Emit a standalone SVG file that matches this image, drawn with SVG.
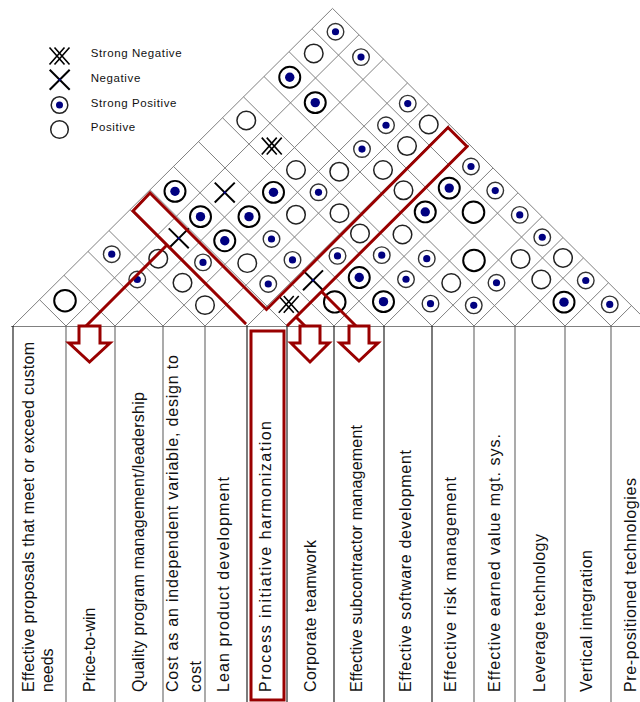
<svg xmlns="http://www.w3.org/2000/svg" xmlns:xlink="http://www.w3.org/1999/xlink" width="640" height="702" viewBox="0 0 640 702">
<style>
.grid{stroke:#808080;stroke-width:1;fill:none}
.col{stroke:#666;stroke-width:1.1}
.colk{stroke:#111;stroke-width:1.1}
.lbl{font-family:"Liberation Sans",Arial,sans-serif;font-size:16px;fill:#111}
.leg{font-family:"Liberation Sans",Arial,sans-serif;font-size:11.5px;letter-spacing:0.6px;fill:#111}
.red{stroke:#990000;stroke-width:3;fill:none;stroke-linejoin:miter}
.arrow{stroke:#990000;stroke-width:3;fill:#fff;stroke-linejoin:miter}
</style>
<defs>
<g id="sps"><circle r="8.3" fill="#fff" stroke="#333" stroke-width="1.4"/><circle r="3.6" fill="#000080"/></g>
<g id="spb"><circle r="10.5" fill="#fff" stroke="#000" stroke-width="2"/><circle r="4.7" fill="#000080"/></g>
<g id="p"><circle r="9.3" fill="#fff" stroke="#222" stroke-width="1.5"/></g>
<g id="pb"><circle r="10.8" fill="#fff" stroke="#000" stroke-width="2"/></g>
<g id="n"><path d="M-10,-10L10,10M10,-10L-10,10" stroke="#000" stroke-width="2"/><circle r="1.3" fill="#000080"/></g>
<g id="sn"><path d="M-10,-8.5L5,8.5M-5,-8.5L10,8.5M5,-8.5L-10,8.5M10,-8.5L-5,8.5" stroke="#000" stroke-width="1.6"/></g>
</defs>
<rect width="640" height="702" fill="#fff"/>
<g id="legend">
<use xlink:href="#sn" x="59.5" y="56"/>
<use xlink:href="#n" x="59.7" y="79.7"/>
<g transform="translate(59.5,105)"><circle r="8.3" fill="#fff" stroke="#222" stroke-width="1.5"/><circle r="3.5" fill="#000080"/></g>
<circle cx="59.5" cy="129.5" r="8.8" fill="#fff" stroke="#222" stroke-width="1.5"/>
<text class="leg" x="90.7" y="56.7">Strong Negative</text>
<text class="leg" x="90.7" y="81.7">Negative</text>
<text class="leg" x="90.7" y="106.7">Strong Positive</text>
<text class="leg" x="90.7" y="130.7">Positive</text>
</g>
<g id="roof" transform="matrix(1 0 0 0.994 0 1.956)">
<path class="grid" d="M13 326L332.5 6.5M66 326L359 33M115 326L383.5 57.5M163 326L407.5 81.5M205 326L428.5 102.5M247 326L449.5 123.5M287 326L469.5 143.5M334 326L493 167M384 326L518 192M432 326L542 216M474 326L563 237M515 326L583.5 257.5M565 326L608.5 282.5M611 326L631.5 305.5"/>
<path class="grid" d="M66 326L39.5 299.5M115 326L64 275M163 326L88 251M205 326L109 230M247 326L130 209M287 326L150 189M334 326L173.5 165.5M384 326L198.5 140.5M432 326L222.5 116.5M474 326L243.5 95.5M515 326L264 75M565 326L289 50M611 326L312 27M652 326L332.5 6.5"/>
<g id="cells">
<use xlink:href="#sps" x="335.5" y="30"/>
<use xlink:href="#sps" x="361" y="55.5"/>
<use xlink:href="#sps" x="407.75" y="102.25"/>
<use xlink:href="#sps" x="386" y="124"/>
<use xlink:href="#sps" x="362" y="148"/>
<use xlink:href="#sps" x="471" y="165.5"/>
<use xlink:href="#sps" x="495.25" y="189.75"/>
<use xlink:href="#sps" x="519.75" y="214.25"/>
<use xlink:href="#sps" x="271.5" y="238.5"/>
<use xlink:href="#sps" x="542.25" y="236.75"/>
<use xlink:href="#sps" x="111.75" y="253.75"/>
<use xlink:href="#sps" x="203" y="262"/>
<use xlink:href="#sps" x="292.5" y="259.5"/>
<use xlink:href="#sps" x="337.5" y="255.5"/>
<use xlink:href="#sps" x="381.75" y="254.75"/>
<use xlink:href="#sps" x="426.75" y="258.25"/>
<use xlink:href="#sps" x="137.25" y="279.25"/>
<use xlink:href="#sps" x="268.25" y="283.75"/>
<use xlink:href="#sps" x="406" y="279"/>
<use xlink:href="#sps" x="496.5" y="282.5"/>
<use xlink:href="#sps" x="585.75" y="280.25"/>
<use xlink:href="#sps" x="430.5" y="303.5"/>
<use xlink:href="#sps" x="473.75" y="305.25"/>
<use xlink:href="#sps" x="609.75" y="304.25"/>
<use xlink:href="#sps" x="318.5" y="191.5"/>
<use xlink:href="#spb" x="289.75" y="75.75"/>
<use xlink:href="#spb" x="315.25" y="101.25"/>
<use xlink:href="#spb" x="175" y="190.5"/>
<use xlink:href="#spb" x="273.5" y="191.5"/>
<use xlink:href="#spb" x="449.25" y="187.25"/>
<use xlink:href="#spb" x="200.5" y="216"/>
<use xlink:href="#spb" x="249" y="216"/>
<use xlink:href="#spb" x="425.25" y="211.25"/>
<use xlink:href="#spb" x="224.75" y="240.25"/>
<use xlink:href="#spb" x="359.25" y="277.25"/>
<use xlink:href="#spb" x="383.5" y="301.5"/>
<use xlink:href="#spb" x="564" y="302"/>
<use xlink:href="#p" x="313.75" y="51.75"/>
<use xlink:href="#p" x="246.25" y="119.25"/>
<use xlink:href="#p" x="428.75" y="123.25"/>
<use xlink:href="#p" x="407" y="145"/>
<use xlink:href="#p" x="296" y="169"/>
<use xlink:href="#p" x="339.25" y="170.75"/>
<use xlink:href="#p" x="383" y="169"/>
<use xlink:href="#p" x="403.5" y="189.5"/>
<use xlink:href="#p" x="296" y="214"/>
<use xlink:href="#p" x="339.5" y="212.5"/>
<use xlink:href="#p" x="360" y="233"/>
<use xlink:href="#p" x="402.5" y="234"/>
<use xlink:href="#p" x="158.25" y="258.25"/>
<use xlink:href="#p" x="247.25" y="262.75"/>
<use xlink:href="#p" x="520.5" y="258.5"/>
<use xlink:href="#p" x="563" y="257.5"/>
<use xlink:href="#p" x="182.5" y="282.5"/>
<use xlink:href="#p" x="451.25" y="282.75"/>
<use xlink:href="#p" x="541.25" y="279.25"/>
<use xlink:href="#p" x="205" y="305"/>
<use xlink:href="#pb" x="473.5" y="211.5"/>
<use xlink:href="#pb" x="474" y="260"/>
<use xlink:href="#pb" x="65" y="300.5"/>
<use xlink:href="#pb" x="334.75" y="301.75"/>
<use xlink:href="#n" x="224.75" y="191.75"/>
<use xlink:href="#n" x="178.75" y="237.75"/>
<use xlink:href="#n" x="313" y="280"/>
<use xlink:href="#sn" x="271.75" y="145"/>
<use xlink:href="#sn" x="288.75" y="304.25"/>
</g>
</g>
<g id="columns">
<path class="grid" d="M11 326.5H640"/>
<path class="colk" d="M13 326V702M247 326V702M287 326V702M334 326V702M384 326V702M432 326V702"/>
<path class="col" d="M66 326V702M115 326V702M163 326V702M205 326V702M474 326V702M515 326V702M565 326V702M611 326V702"/>
</g>
<g id="labels">
<text class="lbl" transform="translate(34,692) rotate(-90)" textLength="350" lengthAdjust="spacing">Effective proposals that meet or exceed custom</text>
<text class="lbl" transform="translate(53,692) rotate(-90)">needs</text>
<text class="lbl" transform="translate(95,692) rotate(-90)">Price-to-win</text>
<text class="lbl" transform="translate(144,692) rotate(-90)" textLength="300" lengthAdjust="spacing">Quality program management/leadership</text>
<text class="lbl" transform="translate(178,692) rotate(-90)" textLength="337" lengthAdjust="spacing">Cost as an independent variable, design to</text>
<text class="lbl" transform="translate(201,692) rotate(-90)" textLength="31" lengthAdjust="spacing">cost</text>
<text class="lbl" transform="translate(229,692) rotate(-90)" textLength="215" lengthAdjust="spacing">Lean product development</text>
<text class="lbl" transform="translate(271,692) rotate(-90)" textLength="271" lengthAdjust="spacing">Process initiative harmonization</text>
<text class="lbl" transform="translate(316,692) rotate(-90)" textLength="152" lengthAdjust="spacing">Corporate teamwork</text>
<text class="lbl" transform="translate(362,692) rotate(-90)" textLength="267" lengthAdjust="spacing">Effective subcontractor management</text>
<text class="lbl" transform="translate(411,692) rotate(-90)" textLength="242" lengthAdjust="spacing">Effective software development</text>
<text class="lbl" transform="translate(456,692) rotate(-90)" textLength="215" lengthAdjust="spacing">Effective risk management</text>
<text class="lbl" transform="translate(500,692) rotate(-90)" textLength="258" lengthAdjust="spacing">Effective earned value mgt. sys.</text>
<text class="lbl" transform="translate(545,692) rotate(-90)" textLength="158" lengthAdjust="spacing">Leverage technology</text>
<text class="lbl" transform="translate(592,692) rotate(-90)" textLength="142" lengthAdjust="spacing">Vertical integration</text>
<text class="lbl" transform="translate(636,692) rotate(-90)" textLength="214" lengthAdjust="spacing">Pre-positioned technologies</text>
</g>
<g id="highlights">
<path class="red" d="M246,324L133,211L150,193L266.5,309.5L448,127.5L467,146.5L287,326"/>
<rect class="red" x="251" y="331" width="33" height="369"/>
</g>
<g id="connectors">
<path class="red" d="M167,245L86,326"/>
<path class="red" d="M296,317L306,327"/>
<path class="red" d="M321,291L357,327"/>
</g>
<g id="arrows">
<path class="arrow" d="M79,326H100V343H110L89.5,362L69,343H79Z"/>
<path class="arrow" d="M300,326H320V343H329L310,362L291,343H300Z"/>
<path class="arrow" d="M349,326H369V343H378L359,361L340,343H349Z"/>
</g>
</svg>
